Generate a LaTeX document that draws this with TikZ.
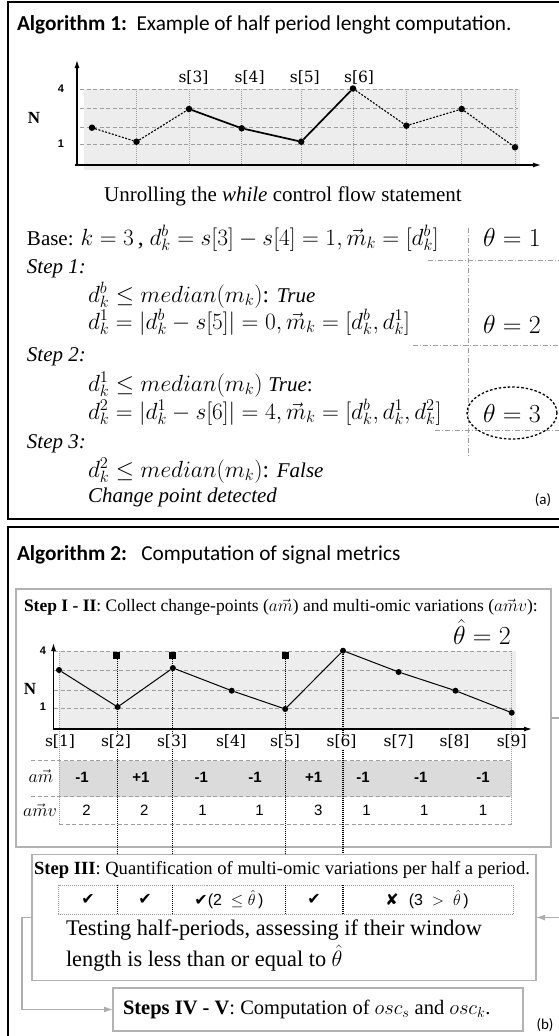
\RequirePackage{fix-cm}
\documentclass[tikz,border=0pt]{standalone}
\usepackage[no-math]{fontspec}
\setmainfont{Liberation Serif}
\newfontfamily\calib{Carlito}
\newfontfamily\arialf{Liberation Sans}
\newfontfamily\dvsans{DejaVu Sans}
\newfontfamily\dvserif{DejaVu Serif}
\usetikzlibrary{arrows.meta,shapes.geometric}
\newcommand{\fs}[1]{\fontsize{#1}{#1}\selectfont}
\definecolor{boxgray}{gray}{0.70}
\definecolor{shadecol}{gray}{0.93}
\definecolor{bandcol}{gray}{0.86}
\definecolor{gridc}{gray}{0.62}
\definecolor{conncol}{gray}{0.68}
\begin{document}
\begin{tikzpicture}[x=1pt,y=-1pt,
  every node/.style={inner sep=0pt, outer sep=0pt},
  frame/.style={draw=black, line width=1.6pt},
  gbox/.style={draw=boxgray, line width=1.5pt, anchor=north west},
  gridh/.style={draw=gridc, dash pattern=on 4pt off 2.5pt, line width=0.9pt},
  gridv/.style={draw=gridc, dash pattern=on 1pt off 1pt, line width=0.9pt},
  dd/.style={draw=gridc, dash pattern=on 5pt off 2pt on 1pt off 2pt, line width=0.9pt},
  blkdot/.style={draw=black, dash pattern=on 1pt off 1pt, line width=1.1pt},
  axis/.style={draw=black, line width=1.2pt, -{Latex[length=8pt,width=5pt]}},
  dot/.style={circle, fill=black, minimum size=6.5pt},
  sqm/.style={rectangle, fill=black, minimum size=7pt},
  conn/.style={draw=conncol, line width=1.3pt, -{Latex[length=9pt,width=6pt]}},
  slab/.style={font=\dvserif\fs{15.5}},
  tx/.style={anchor=base west, font=\fs{21}},
  mx/.style={anchor=base west, font=\fs{23.4}},
  numl/.style={font=\arialf\bfseries\fs{11}},
  cell/.style={font=\arialf\bfseries\fs{15}},
  cellv/.style={font=\arialf\fs{15}},
  chk/.style={font=\dvsans\fs{16}}]
\useasboundingbox (0,0) rectangle (559,1036);
\begin{scope}
\clip (0,0) rectangle (559,1036);
% ================= Panel (a) =================
\draw[frame] (8,2) rectangle (640,519);
\node[anchor=base west, font=\calib\fs{21.3}] (t1) at (17,30) {\textbf{Algorithm 1:}\ \ Example of half period lenght computation.};
% chart a
\fill[shadecol] (84,89) rectangle (520,170);
\foreach \yy in {89,108.3,127.3,144} \draw[gridh] (80,\yy) -- (518,\yy);
\foreach \xx in {136.5,189,241.7,301.2,353,406.4,461.7,515} \draw[gridv] (\xx,89) -- (\xx,165);
\draw[axis] (77,166) -- (77,60);
\draw[axis] (75,165) -- (541,165);
\node[numl] (a4l) at (61,89) {4};
\node[numl] (a1l) at (61,144) {1};
\node[font=\bfseries\fs{17}] (aN) at (34,118) {N};
\node[dot] (a1) at (92,127.7) {};
\node[dot] (a2) at (136.5,141.7) {};
\node[dot] (a3) at (189,109) {};
\node[dot] (a4) at (241.7,128.3) {};
\node[dot] (a5) at (301.2,141.7) {};
\node[dot] (a6) at (353,88.5) {};
\node[dot] (a7) at (406.4,125.7) {};
\node[dot] (a8) at (461.7,109) {};
\node[dot] (a9) at (515,147.3) {};
\draw[black, dash pattern=on 2pt off 1.5pt, line width=1.1pt] (a1) -- (a2) -- (a3);
\draw[black, line width=1.7pt] (a3) -- (a4) -- (a5) -- (a6);
\draw[black, dash pattern=on 2pt off 1.5pt, line width=1.1pt] (a6) -- (a7) -- (a8) -- (a9);
\node[slab, anchor=base] (ls3) at (193.5,82) {s[3]};
\node[slab, anchor=base] (ls4) at (249.6,82) {s[4]};
\node[slab, anchor=base] (ls5) at (304.8,82) {s[5]};
\node[slab, anchor=base] (ls6) at (359,82) {s[6]};
% unrolling text
\node[anchor=base, font=\fs{21}] (unroll) at (283,201) {Unrolling the \textit{while} control flow statement};
\node[mx] (base) at (27,245) {\fontsize{21}{21}\selectfont Base: \fontsize{23.4}{23.4}\selectfont$k=3$\,, $d_k^b = s[3]-s[4] = 1, \vec{m}_k = [d_k^b]$};
\node[tx, font=\fs{21}\itshape] (st1) at (27,273) {Step 1:};
\node[mx] (l11) at (88,302) {$d_k^b \leq median(m_k)$: {\fontsize{21}{21}\selectfont\textit{True}}};
\node[mx] (l12) at (88,329) {$d_k^1 = |d_k^b - s[5]| = 0, \vec{m}_k = [d_k^b, d_k^1]$};
\node[tx, font=\fs{21}\itshape] (st2) at (27,361) {Step 2:};
\node[mx] (l21) at (88,391) {$d_k^1 \leq median(m_k)$ {\fontsize{21}{21}\selectfont\textit{True}:}};
\node[mx] (l22) at (88,419) {$d_k^2 = |d_k^1 - s[6]| = 4, \vec{m}_k = [d_k^b, d_k^1, d_k^2]$};
\node[tx, font=\fs{21}\itshape] (st3) at (27,448) {Step 3:};
\node[mx] (l31) at (88,477) {$d_k^2 \leq median(m_k)$: {\fontsize{21}{21}\selectfont\textit{False}}};
\node[tx, font=\fs{21}\itshape] (l32) at (88,502) {Change point detected};
% theta column
\draw[dd] (468,228) -- (468,457);
\draw[dd] (428,260) -- (570,260);
\draw[dd] (413,345) -- (570,345);
\draw[dd] (435,430) -- (570,430);
\node[anchor=base, font=\fs{26}] (th1) at (512,246) {$\theta = 1$};
\node[anchor=base, font=\fs{26}] (th2) at (512,333) {$\theta = 2$};
\node[ellipse, draw=black, dash pattern=on 2.5pt off 2pt, line width=1.3pt, minimum width=90pt, minimum height=52pt, font=\fs{26}] (th3) at (512,413) {$\theta = 3$};
\node[font=\calib\fs{15}] (pa) at (543,500) {(a)};
% ================= Panel (b) =================
\draw[frame] (8,527) rectangle (640,1100);
\node[anchor=base west, font=\calib\fs{21.3}] (t2) at (17,560) {\textbf{Algorithm 2:}\ \ \ Computation of signal metrics};
\node[gbox, minimum width=535pt, minimum height=258pt] (box12) at (16,589) {};
\node[anchor=base west, font=\fs{17.5}] (s12) at (24,611) {\textbf{Step I - II}: Collect change-points ($a\vec{m}$) and multi-omic variations ($a\vec{m}v$):};
\node[anchor=base, font=\fs{26}] (thh) at (482,644) {$\hat{\theta} = 2$};
% chart b
\fill[shadecol] (59,651) rectangle (516,729);
\fill[bandcol] (59,760.7) rectangle (511.7,796.7);
\foreach \yy in {651,670,690,708} \draw[gridh] (54,\yy) -- (512,\yy);
\draw[gridv] (59,651) -- (59,824);
\draw[gridv] (511.7,651) -- (511.7,824);
\draw[gridh] (31,760.7) -- (511.7,760.7);
\draw[gridh] (31,796.7) -- (511.7,796.7);
\draw[gridh] (59,824) -- (511.7,824);
\draw[axis] (53.5,730) -- (53.5,643);
\draw[axis] (53.5,729) -- (532,729);
\node[numl] (b4l) at (43,651) {4};
\node[numl] (b1l) at (43,707) {1};
\node[font=\bfseries\fs{17}] (bN) at (30,689) {N};
% markers and black dotted verticals
\node[sqm] (q2) at (116.5,655) {};
\node[sqm] (q3) at (172.5,655) {};
\node[sqm] (q5) at (285.2,655) {};
\coordinate (e2) at (117.6,914);
\coordinate (e3) at (172.9,914);
\coordinate (e5) at (285.2,914);
\coordinate (e6) at (343,914);
\coordinate (f2) at (117.6,885);
\coordinate (f3) at (172.9,885);
\coordinate (f5) at (285.2,885);
\coordinate (f6) at (343,885);
\node[dot, minimum size=6pt] (b1) at (59,670) {};
\node[dot, minimum size=6pt] (b2) at (117.6,707) {};
\node[dot, minimum size=6pt] (b3) at (172.9,668) {};
\node[dot, minimum size=6pt] (b4) at (231.7,690.7) {};
\node[dot, minimum size=6pt] (b5) at (285.2,709) {};
\node[dot, minimum size=6pt] (b6) at (343,650.7) {};
\node[dot, minimum size=6pt] (b7) at (398.6,672) {};
\node[dot, minimum size=6pt] (b8) at (455.5,690.7) {};
\node[dot, minimum size=6pt] (b9) at (511.7,712.7) {};
\draw[blkdot] (q2.south -| e2) -- (e2);
\draw[blkdot] (q3.south -| e3) -- (e3);
\draw[blkdot] (q5) -- (e5);
\draw[blkdot] (b6) -- (e6);
\draw[black, line width=1pt] (b1) -- (b2) -- (b3) -- (b4) -- (b5) -- (b6) -- (b7) -- (b8) -- (b9);
% s labels
\node[slab] (s1) at (60,742) {s[1]};
\node[slab, fill=white] (s2) at (116,742) {s[2]};
\node[slab, fill=white] (s3) at (172,742) {s[3]};
\node[slab] (s4) at (231,742) {s[4]};
\node[slab, fill=white] (s5) at (285,742) {s[5]};
\node[slab, fill=white] (s6) at (341.5,742) {s[6]};
\node[slab] (s7) at (398.6,742) {s[7]};
\node[slab] (s8) at (454.5,742) {s[8]};
\node[slab] (s9) at (511.7,742) {s[9]};
% table
\node[font=\fs{18}] (ram) at (41,776) {$a\vec{m}$};
\node[font=\fs{18}] (ramv) at (40,810) {$a\vec{m}v$};
\node[cell] (m1) at (82,777) {-1};
\node[cell] (m2) at (140.8,777) {+1};
\node[cell] (m3) at (201.4,777) {-1};
\node[cell] (m4) at (255,777) {-1};
\node[cell] (m5) at (313.7,777) {+1};
\node[cell] (m6) at (363,777) {-1};
\node[cell] (m7) at (420.7,777) {-1};
\node[cell] (m8) at (483,777) {-1};
\node[cellv] (v1) at (86.6,810) {2};
\node[cellv] (v2) at (144.4,810) {2};
\node[cellv] (v3) at (202.5,810) {1};
\node[cellv] (v4) at (259.5,810) {1};
\node[cellv] (v5) at (318.4,810) {3};
\node[cellv] (v6) at (366.5,810) {1};
\node[cellv] (v7) at (424.2,810) {1};
\node[cellv] (v8) at (483,810) {1};
% Step III box (white, hides the dotted lines), then its check row
\node[gbox, fill=white, minimum width=504pt, minimum height=126pt] (box3) at (32,854.5) {};
\draw[draw=gridc, dash pattern=on 1pt off 1pt, line width=0.9pt] (58.5,885) rectangle (513,914);
\draw[blkdot] (f2) -- (e2);
\draw[blkdot] (f3) -- (e3);
\draw[blkdot] (f5) -- (e5);
\draw[blkdot] (f6) -- (e6);
\node[anchor=base west, font=\fs{18.6}] (s3t) at (34,874) {\textbf{Step III}: Quantification of multi-omic variations per half a period.};
\node[chk] (c1) at (88,899.5) {✔};
\node[chk] (c2) at (145.2,899.5) {✔};
\node[chk] (c3) at (229,899.5) {✔\arialf(2\ \ $\leq\hat{\theta}$\,)};
\node[chk] (c4) at (314,899.5) {✔};
\node[chk] (c5) at (427,899.5) {✘\ \ \arialf(3\ \ $>$\ \ $\hat{\theta}$\,)};
\node[anchor=base west, font=\fs{22.3}] (test1) at (66,935) {Testing half-periods, assessing if their window};
\node[anchor=base west, font=\fs{22.3}] (test2) at (66,966) {length is less than or equal to $\hat{\theta}$};
% Steps IV-V
\node[gbox, minimum width=410pt, minimum height=43pt] (box45) at (113,988) {};
\node[anchor=west, font=\fs{20.5}] (s45) at (123,1009.5) {\textbf{Steps IV - V}: Computation of $osc_s$ and $osc_k$.};
\node[font=\calib\fs{15}] (pb) at (545,1025) {(b)};
% connectors
\draw[conn] (box12.east) -- ++(25,0) |- (box3.east);
\draw[conn] (box3.west) -- ++(-10,0) |- (box45.west);
\end{scope}
\end{tikzpicture}
\end{document}
